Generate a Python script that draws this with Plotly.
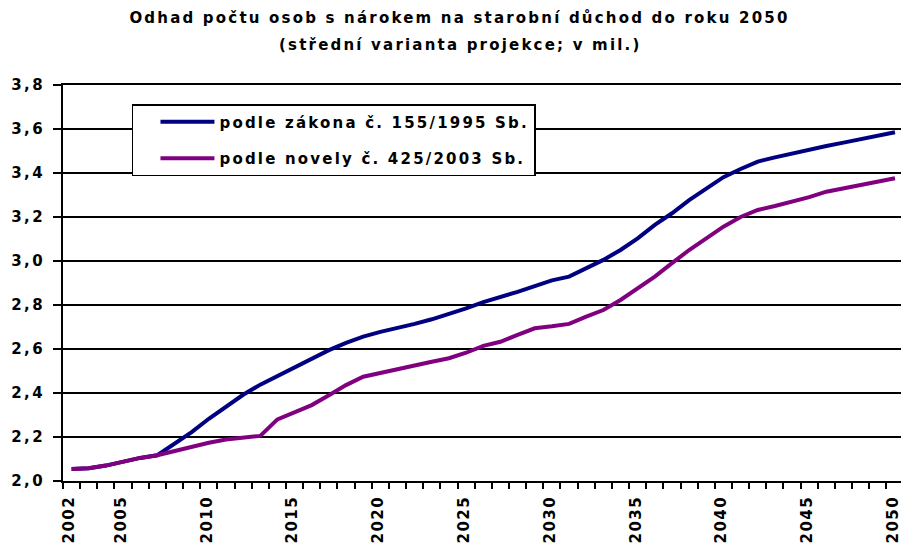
import plotly.graph_objects as go

years = list(range(2002, 2051))

zakon_155 = [2.055, 2.058, 2.070, 2.088, 2.105, 2.117, 2.172, 2.222, 2.283, 2.337,
             2.392, 2.438, 2.478, 2.515, 2.555, 2.595, 2.628, 2.656, 2.678, 2.694,
             2.714, 2.735, 2.759, 2.785, 2.813, 2.835, 2.860, 2.886, 2.912, 2.929,
             2.967, 3.005, 3.050, 3.103, 3.164, 3.217, 3.277, 3.330, 3.381, 3.418,
             3.452, 3.471, 3.489, 3.505, 3.523, 3.538, 3.553, 3.568, 3.585]

novela_425 = [2.055, 2.058, 2.070, 2.088, 2.105, 2.117, 2.136, 2.156, 2.174, 2.189,
              2.199, 2.205, 2.280, 2.315, 2.345, 2.390, 2.436, 2.474, 2.492, 2.509,
              2.527, 2.542, 2.558, 2.583, 2.614, 2.633, 2.664, 2.694, 2.703, 2.714,
              2.747, 2.777, 2.823, 2.876, 2.929, 2.990, 3.050, 3.103, 3.156, 3.200,
              3.232, 3.250, 3.270, 3.290, 3.315, 3.330, 3.348, 3.364, 3.376]

series_names = ["podle zákona č. 155/1995 Sb.", "podle novely č. 425/2003 Sb."]
series_colors = ["#000080", "#800080"]

x_tick_years = [2002, 2005, 2010, 2015, 2020, 2025, 2030, 2035, 2040, 2045, 2050]
y_ticks = [2.0, 2.2, 2.4, 2.6, 2.8, 3.0, 3.2, 3.4, 3.6, 3.8]
y_tick_labels = ["2,0", "2,2", "2,4", "2,6", "2,8", "3,0", "3,2", "3,4", "3,6", "3,8"]

title_lines = ["Odhad počtu osob s nárokem na starobní důchod do roku 2050",
               "(střední varianta projekce; v mil.)"]

FONT = "DejaVu Sans"

def spaced(t, ls=1.2):
    return f"<span style='letter-spacing:{ls}px'>{t}</span>"

fig = go.Figure()
for vals, name, col, grp in zip([zakon_155, novela_425], series_names, series_colors, ["a", "b"]):
    fig.add_trace(go.Scatter(
        x=years, y=vals, mode="lines", name=spaced(name, 2.2),
        legendgroup=grp,
        line=dict(color=col, width=4),
    ))

fig.update_layout(
    width=901, height=545,
    margin=dict(l=63, r=0, t=85, b=64, autoexpand=False),
    paper_bgcolor="white", plot_bgcolor="white",
    font=dict(family=FONT, size=15, color="black", weight="bold"),
    title=dict(
        text=spaced(title_lines[0], 2.2),
        x=0.51, xanchor="center", xref="container",
        y=1 - 18 / 545, yanchor="middle", yref="container",
        font=dict(family=FONT, size=15, color="black", weight="bold"),
        automargin=False,
    ),
    annotations=[dict(
        text=spaced(title_lines[1], 2.2),
        x=(460 - 63) / 838, xref="paper", xanchor="center",
        y=1, yref="paper", yanchor="middle", yshift=85 - 45,
        showarrow=False,
        font=dict(family=FONT, size=15, color="black", weight="bold"),
    )],
    legend=dict(
        x=0.0823, y=0.952, xanchor="left", yanchor="top",
        bgcolor="white", bordercolor="black", borderwidth=1.5,
        font=dict(family=FONT, size=15, color="black", weight="bold"),
        tracegroupgap=14, traceorder="grouped", itemwidth=54,
        indentation=22,
    ),
    showlegend=True,
    separators=",.",
)

fig.update_xaxes(
    range=[2001.5, 2050.35], automargin=False,
    tickmode="array", tickvals=x_tick_years,
    ticktext=[spaced(str(y), 1.5) for y in x_tick_years],
    tickangle=-90, ticks="", ticklabelstandoff=7, ticklabelshift=-2,
    ticklabeloverflow="allow",
    showline=True, linecolor="black", linewidth=1.5, mirror=True,
    showgrid=False, zeroline=False,
    minor=dict(tickmode="linear", tick0=2001.5, dtick=1, ticks="outside",
               ticklen=6, tickcolor="black", tickwidth=1.5, showgrid=False),
    tickfont=dict(family=FONT, size=15, color="black", weight="bold"),
)
fig.update_yaxes(
    range=[2.0, 3.8], automargin=False,
    tickmode="array", tickvals=y_ticks,
    ticktext=[spaced(t, 2.5) for t in y_tick_labels],
    ticks="outside", ticklen=8, tickcolor="black", tickwidth=1.5,
    ticklabelstandoff=5,
    showline=True, linecolor="black", linewidth=1.5,
    showgrid=True, gridcolor="black", gridwidth=1.5, zeroline=False,
    tickfont=dict(family=FONT, size=15, color="black", weight="bold"),
)

fig.write_html("out.html",
               config={"displayModeBar": False},
               post_script="document.body.style.margin='0';document.body.style.overflow='hidden';")
